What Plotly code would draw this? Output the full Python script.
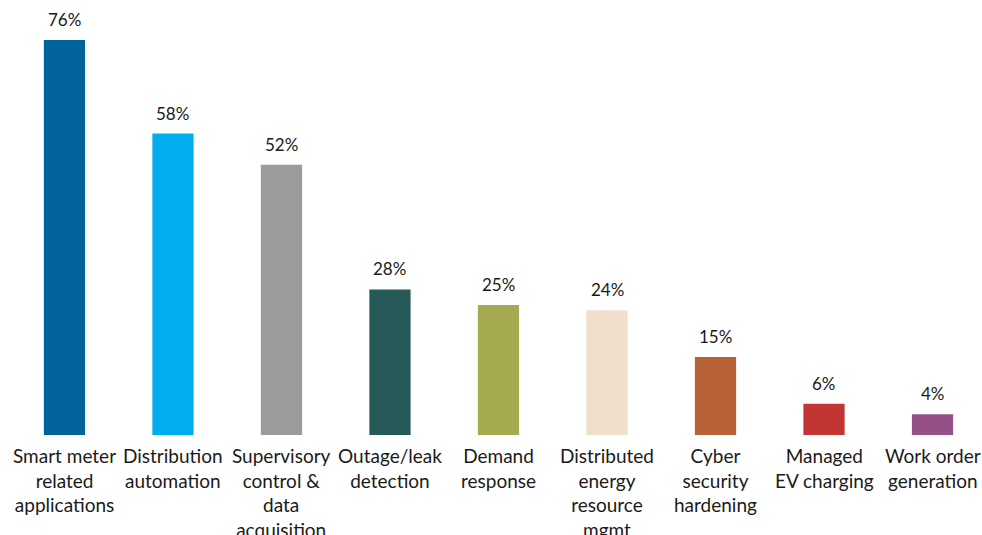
import plotly.graph_objects as go

# Share of respondents citing each application
categories = [
    "Smart meter related applications",
    "Distribution automation",
    "Supervisory control & data acquisition",
    "Outage/leak detection",
    "Demand response",
    "Distributed energy resource mgmt",
    "Cyber security hardening",
    "Managed EV charging",
    "Work order generation",
]
tick_labels = [
    "Smart meter<br>related<br>applications",
    "Distribution<br>automation",
    "Supervisory<br>control &<br>data<br>acquisition",
    "Outage/leak<br>detection",
    "Demand<br>response",
    "Distributed<br>energy<br>resource<br>mgmt",
    "Cyber<br>security<br>hardening",
    "Managed<br>EV charging",
    "Work order<br>generation",
]
values = [76, 58, 52, 28, 25, 24, 15, 6, 4]
colors = [
    "#00639C", "#00AEEF", "#9B9B9D", "#255A59", "#A5A94F",
    "#F0E0CB", "#B86237", "#C23533", "#955088",
]

FONT = "Lato, Open Sans, sans-serif"
TEXT_COLOR = "#1a1a1a"

x_idx = list(range(len(categories)))

fig = go.Figure(
    go.Bar(
        x=x_idx,
        y=values,
        width=0.38,
        marker=dict(color=colors, line=dict(width=0)),
        hovertext=categories,
    )
)

# value labels above each bar
for i, v in zip(x_idx, values):
    fig.add_annotation(
        x=i, xref="x", y=v, yref="y",
        text=f"{v}%", showarrow=False,
        yanchor="bottom", xanchor="center",
        yshift=8,
        font=dict(family=FONT, size=17, color=TEXT_COLOR),
    )

# category labels under the bars
for i, lab in zip(x_idx, tick_labels):
    fig.add_annotation(
        x=i, xref="x", y=0, yref="paper",
        text=lab, showarrow=False,
        yanchor="top", xanchor="center",
        yshift=-7,
        font=dict(family=FONT, size=19, color=TEXT_COLOR),
        align="center",
    )

fig.update_layout(
    width=982, height=535,
    margin=dict(l=0, r=0, t=0, b=100),
    plot_bgcolor="white", paper_bgcolor="white",
    showlegend=False,
    xaxis=dict(range=[-0.594, 8.456], showticklabels=False, showgrid=False,
               zeroline=False, showline=False, ticks=""),
    yaxis=dict(range=[0, 83.7], visible=False, showgrid=False, zeroline=False),
)

fig.write_html("out.html")
